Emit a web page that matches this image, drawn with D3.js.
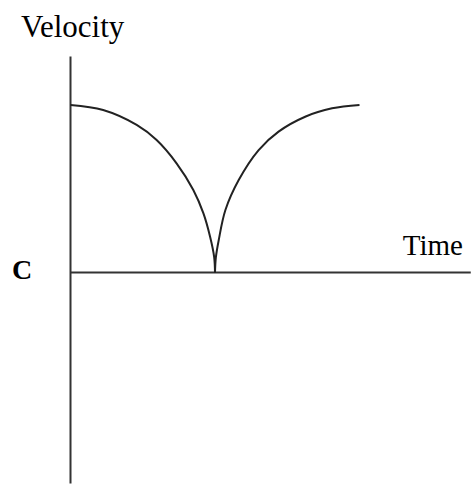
<!DOCTYPE html>
<html>
<head>
<script src="https://cdn.jsdelivr.net/npm/d3@7"></script>
<style>
  body { margin: 0; background: #fff; }
  svg { display: block; }
</style>
</head>
<body>
<script>
// velocity falls to zero, then rises again
var slowTime = [0, 1.13, 2.29, 2.98, 3.67, 4.25, 4.6, 4.83, 4.97, 5.0];
var slowVel  = [10, 9.7, 8.81, 7.91, 6.52, 4.93, 3.53, 2.14, 0.94, 0];
var fastTime = [5.0, 5.03, 5.13, 5.36, 5.82, 6.51, 7.2, 8.12, 9.05, 10.0];
var fastVel  = [0, 0.9, 1.94, 3.73, 5.52, 7.31, 8.41, 9.3, 9.8, 10];

var axisTime = [0, 13.85];
var axisVel  = [-12.6, 12.9];

var labels = { y: "Velocity", x: "Time", panel: "C" };

var width = 473, height = 484;

var svg = d3.select("body").append("svg")
            .attr("width", width)
            .attr("height", height);

var x = d3.scaleLinear().domain([0, 10]).range([70.5, 359.5]);
var y = d3.scaleLinear().domain([0, 10]).range([272.5, 105]);

// axes
svg.append("line")
   .attr("x1", x(0)).attr("x2", x(0))
   .attr("y1", y(axisVel[1])).attr("y2", y(axisVel[0]))
   .attr("stroke", "#333").attr("stroke-width", 2);

svg.append("line")
   .attr("x1", x(axisTime[0])).attr("x2", x(axisTime[1]))
   .attr("y1", y(0)).attr("y2", y(0))
   .attr("stroke", "#333").attr("stroke-width", 2);

var line = d3.line()
             .x(function(d) { return x(d[0]); })
             .y(function(d) { return y(d[1]); })
             .curve(d3.curveCatmullRom.alpha(0.5));

[[slowTime, slowVel], [fastTime, fastVel]].forEach(function(s) {
  svg.append("path")
     .datum(d3.zip(s[0], s[1]))
     .attr("d", line)
     .attr("fill", "none")
     .attr("stroke", "#222")
     .attr("stroke-width", 2);
});

svg.append("text")
   .attr("x", 21).attr("y", 37)
   .attr("font-family", "Liberation Serif, Times New Roman, serif")
   .attr("font-size", "31px")
   .text(labels.y);

svg.append("text")
   .attr("x", 463).attr("y", 255)
   .attr("text-anchor", "end")
   .attr("font-family", "Liberation Serif, Times New Roman, serif")
   .attr("font-size", "29px")
   .text(labels.x);

svg.append("text")
   .attr("x", 12).attr("y", 279)
   .attr("font-family", "Liberation Serif, Times New Roman, serif")
   .attr("font-weight", "bold")
   .attr("font-size", "28px")
   .text(labels.panel);
</script>
</body>
</html>
